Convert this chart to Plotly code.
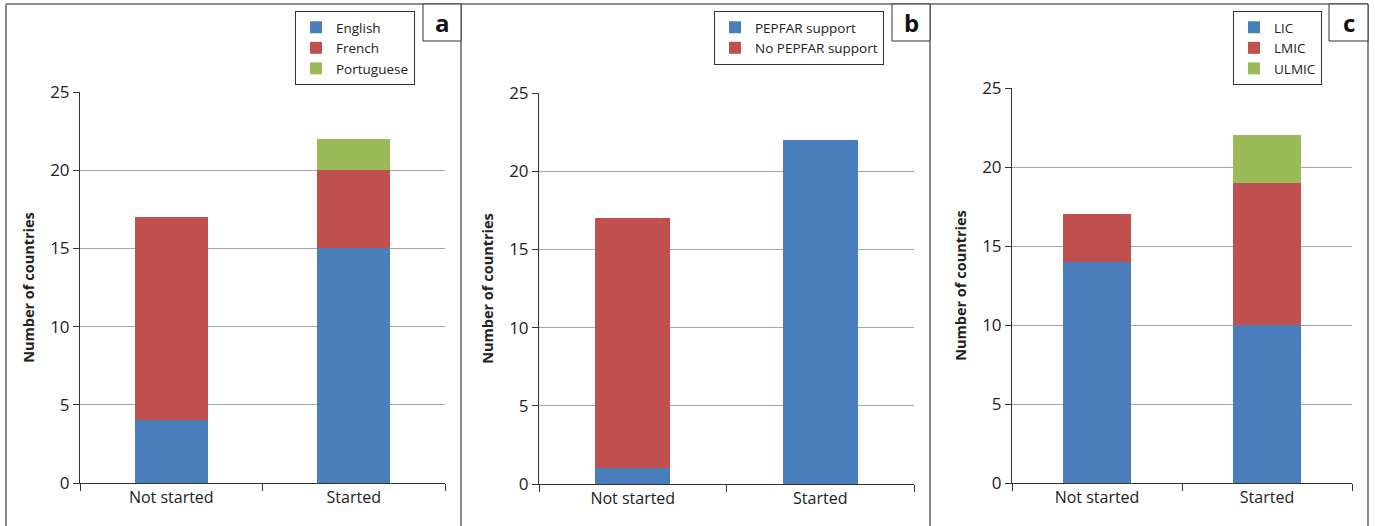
import plotly.graph_objects as go

W, H = 1375, 526
categories = ["Not started", "Started"]

lang_names = ["English", "French", "Portuguese"]
lang_values = [[4, 15], [13, 5], [0, 2]]

pepfar_names = ["PEPFAR support", "No PEPFAR support"]
pepfar_values = [[1, 22], [16, 0]]

income_names = ["LIC", "LMIC", "ULMIC"]
income_values = [[14, 10], [3, 9], [0, 3]]

y_ticks = [0, 5, 10, 15, 20, 25]
panel_letters = ["a", "b", "c"]

colors = ["#4A7EBB", "#C0504D", "#9BBB59"]
FONT = "Open Sans"

# pixel layout of each panel: (x0, x1, ytop, ybottom)
panels = [(80, 445, 92, 483), (539, 914, 93, 484), (1012, 1352, 88, 483)]
legend_right = [415, 884, 1322]
letter_box = [(423, 461), (892, 930), (1329, 1368)]

def px(x):
    return x / W

def py(y):
    return 1 - y / H

fig = go.Figure()
groups = [(lang_names, lang_values), (pepfar_names, pepfar_values), (income_names, income_values)]
for i, (names, vals) in enumerate(groups):
    sfx = "" if i == 0 else str(i + 1)
    for j, (n, v) in enumerate(zip(names, vals)):
        fig.add_trace(go.Bar(
            x=categories, y=v, name=n,
            marker=dict(color=colors[j], line=dict(width=0)),
            width=0.4,
            xaxis="x" + sfx, yaxis="y" + sfx,
            legend="legend" + sfx,
        ))

layout = dict(
    width=W, height=H, barmode="stack",
    margin=dict(l=0, r=0, t=0, b=0, pad=0),
    paper_bgcolor="white", plot_bgcolor="white",
    font=dict(family=FONT, color="#222"),
    showlegend=True,
)
for i, (x0, x1, yt, yb) in enumerate(panels):
    sfx = "" if i == 0 else str(i + 1)
    layout["xaxis" + sfx] = dict(
        domain=[px(x0), px(x1)], anchor="y" + sfx, automargin=False,
        showline=True, linecolor="#333", linewidth=1,
        ticks="outside", tickson="boundaries", ticklen=7, tickcolor="#333",
        tickfont=dict(size=16, family=FONT, color="#222"),
        showgrid=False, range=[-0.5, 1.5], fixedrange=True,
    )
    layout["yaxis" + sfx] = dict(
        domain=[py(yb), py(yt)], anchor="x" + sfx, automargin=False,
        range=[0, 25], tickvals=y_ticks, fixedrange=True,
        showline=True, linecolor="#333", linewidth=1,
        ticks="outside", ticklen=6, tickcolor="#333",
        tickfont=dict(size=17, family=FONT, color="#222"),
        showgrid=True, gridcolor="#A6A6A6", gridwidth=1,
        zeroline=False,
        title=dict(text="<b>Number of countries</b>", standoff=12,
                   font=dict(size=14.5, family=FONT, color="#222")),
    )
    layout["legend" + sfx] = dict(
        x=px(legend_right[i]), xanchor="right", y=py(11), yanchor="top",
        bordercolor="#333", borderwidth=1, bgcolor="white",
        font=dict(size=13.5, family=FONT, color="#222"),
        traceorder="normal", tracegroupgap=0, itemwidth=30,
    )

shapes = []
line = dict(color="#8C8C8C", width=2)
shapes.append(dict(type="line", xref="paper", yref="paper", x0=px(6), x1=px(1368), y0=py(4), y1=py(4), line=line))
for xv in [6, 461, 930, 1368]:
    shapes.append(dict(type="line", xref="paper", yref="paper", x0=px(xv), x1=px(xv), y0=py(4), y1=py(526), line=line))
annotations = []
for (bx0, bx1), letter in zip(letter_box, panel_letters):
    shapes.append(dict(type="rect", xref="paper", yref="paper", x0=px(bx0), x1=px(bx1), y0=py(41), y1=py(4),
                       line=dict(color="#333", width=1), fillcolor="white"))
    annotations.append(dict(xref="paper", yref="paper", x=px((bx0 + bx1) / 2), y=py(22.5),
                            text="<b>" + letter + "</b>", showarrow=False,
                            font=dict(size=24, family=FONT, color="#111"),
                            xanchor="center", yanchor="middle"))
layout["shapes"] = shapes
layout["annotations"] = annotations
fig.update_layout(**layout)
fig.write_html("out.html", config={"displayModeBar": False},
               post_script="document.body.style.margin='0';document.body.style.overflow='hidden';")
